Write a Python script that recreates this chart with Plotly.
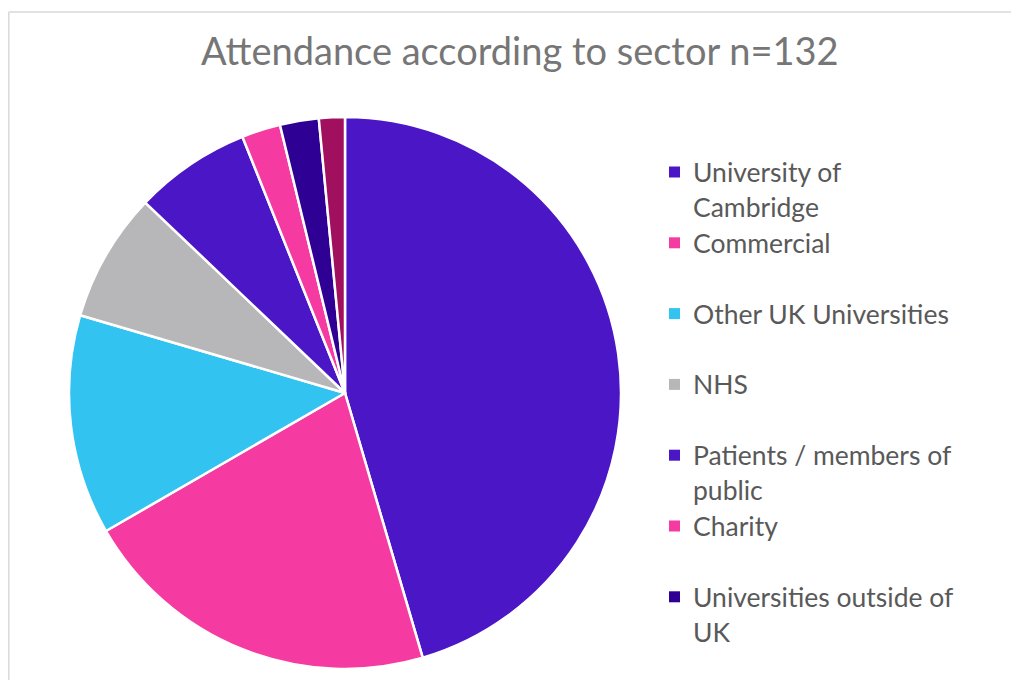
import plotly.graph_objects as go

# ---- data ----
sectors = [
    "University of Cambridge",
    "Commercial",
    "Other UK Universities",
    "NHS",
    "Patients / members of public",
    "Charity",
    "Universities outside of UK",
    "Other",
]
attendance = [60, 28, 17, 10, 9, 3, 3, 2]
legend_lines = [
    ["University of", "Cambridge"],
    ["Commercial"],
    ["Other UK Universities"],
    ["NHS"],
    ["Patients / members of", "public"],
    ["Charity"],
    ["Universities outside of", "UK"],
]
colors = ["#4A16C6", "#F53BA2", "#33C3F1", "#B7B7B9", "#4A16C6", "#F53BA2", "#2E0094", "#A0105E"]
title_text = "Attendance according to sector n=132"

# page has an 8px body margin; keep the figure inside the window (no scrollbars)
OFF = 8
W, H = 1019 - 2 * OFF, 688 - 2 * OFF
FONT = "Lato"


def px(x):
    return (x - OFF) / W


def py(y):
    return 1 - (y - OFF) / H


fig = go.Figure()
fig.add_trace(go.Pie(
    labels=sectors,
    values=attendance,
    sort=False,
    direction="clockwise",
    rotation=0,
    textinfo="none",
    hoverinfo="label+value+percent",
    marker=dict(colors=colors, line=dict(color="white", width=2.5)),
    domain=dict(x=[px(68), px(622)], y=[py(669), py(117)]),
    showlegend=False,
))

annotations = [dict(
    text=title_text, x=px(520), y=py(50), xref="paper", yref="paper",
    xanchor="center", yanchor="middle", showarrow=False,
    font=dict(family=FONT, size=38, color="#767676"),
)]
shapes = [
    dict(type="line", xref="paper", yref="paper", x0=px(8.8), x1=1, y0=py(12), y1=py(12),
         line=dict(color="#D9D9D9", width=1.5)),
    dict(type="line", xref="paper", yref="paper", x0=px(8.8), x1=px(8.8), y0=py(12), y1=0,
         line=dict(color="#D9D9D9", width=1.5)),
]

y0, step, line_gap = 172, 70.8, 35
for i, lines in enumerate(legend_lines):
    yc = y0 + i * step
    shapes.append(dict(type="rect", xref="paper", yref="paper",
                       x0=px(669), x1=px(680), y0=py(yc - 5.5), y1=py(yc + 5.5),
                       fillcolor=colors[i], line=dict(width=0)))
    for j, t in enumerate(lines):
        annotations.append(dict(
            text=t, x=px(691), y=py(yc + j * line_gap), xref="paper", yref="paper",
            xanchor="left", yanchor="middle", showarrow=False,
            font=dict(family=FONT, size=26.5, color="#595959"),
        ))

fig.update_layout(
    width=W, height=H,
    margin=dict(l=0, r=0, t=0, b=0),
    paper_bgcolor="white", plot_bgcolor="white",
    annotations=annotations, shapes=shapes,
)
fig.write_html("out.html")
